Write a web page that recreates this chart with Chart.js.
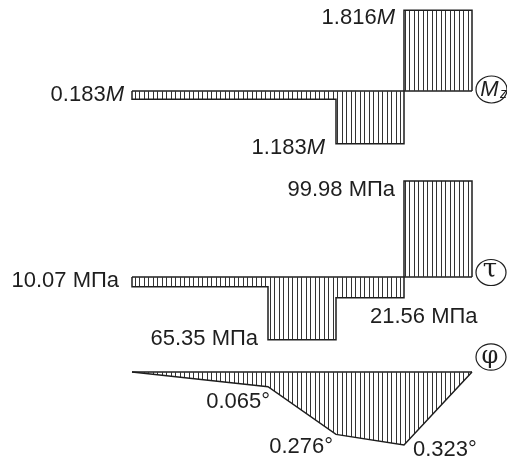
<!DOCTYPE html>
<html><head><meta charset="utf-8">
<style>html,body{margin:0;padding:0;background:#fff;overflow:hidden}#wrap{position:relative;width:507px;height:457px}</style>
</head><body><div id="wrap"><canvas id="c" width="507" height="457"></canvas></div>
<script src="https://cdn.jsdelivr.net/npm/chart.js@4/dist/chart.umd.min.js"></script>
<script>
// ---- data (signed: below the axis = negative) ----
const torqueBounds = [0, 3, 4, 5];
const torqueValues = [-0.183, -1.183, 1.816];          // × M
const stressBounds = [0, 2, 3, 4, 5];
const stressValues = [-10.07, -65.35, -21.56, 99.98];  // МПа
const angleX = [0, 2, 3, 4, 5];
const angleValues = [0, -0.065, -0.276, -0.323, 0];    // degrees

// ---- helpers ----
function stepPoints(bounds, vals) {
  const pts = [{x: bounds[0], y: 0}];
  vals.forEach((v, i) => { pts.push({x: bounds[i], y: v}); pts.push({x: bounds[i + 1], y: v}); });
  pts.push({x: bounds[bounds.length - 1], y: 0});
  return pts;
}
function hatch() {
  const c = document.createElement('canvas');
  c.width = 9; c.height = 4;
  const g = c.getContext('2d');
  g.fillStyle = '#333';
  g.fillRect(0, 0, 1, 4);
  g.fillRect(4, 0, 1, 4);
  return g.createPattern(c, 'repeat');
}
const pat = hatch();
const ink = '#1e1e1e';

function area(data, axis) {
  return {data, yAxisID: axis, borderColor: ink, borderWidth: 1.5, backgroundColor: pat,
    fill: {value: 0}, pointRadius: 0, tension: 0, clip: false};
}
function base(bounds, axis) {
  return {data: [{x: bounds[0], y: 0}, {x: bounds[bounds.length - 1], y: 0}], yAxisID: axis,
    borderColor: ink, borderWidth: 1.5, pointRadius: 0, fill: false, clip: false};
}
const anglePts = angleX.map((x, i) => ({x, y: angleValues[i]}));

// label anchors: [axis, x, value, text, unit, dx, dy, align]
const labelsCfg = [
  ['yM', torqueBounds[0], torqueValues[0], Math.abs(torqueValues[0]).toFixed(3), 'M', -8, 2, 'right'],
  ['yM', torqueBounds[1], torqueValues[1], Math.abs(torqueValues[1]).toFixed(3), 'M', -11, 10, 'right'],
  ['yM', torqueBounds[2], torqueValues[2], Math.abs(torqueValues[2]).toFixed(3), 'M', -9, 14, 'right'],
  ['yT', stressBounds[0], stressValues[0], Math.abs(stressValues[0]).toFixed(2) + ' МПа', '', -13, 0, 'right'],
  ['yT', stressBounds[1], stressValues[1], Math.abs(stressValues[1]).toFixed(2) + ' МПа', '', -10, 5, 'right'],
  ['yT', stressBounds[3], stressValues[2], Math.abs(stressValues[2]).toFixed(2) + ' МПа', '', -34, 25, 'left'],
  ['yT', stressBounds[3], stressValues[3], Math.abs(stressValues[3]).toFixed(2) + ' МПа', '', -9, 15, 'right'],
  ['yP', angleX[1], angleValues[1], Math.abs(angleValues[1]).toFixed(3) + '°', '', 2, 21, 'right'],
  ['yP', angleX[2], angleValues[2], Math.abs(angleValues[2]).toFixed(3) + '°', '', -3, 19, 'right'],
  ['yP', angleX[3], angleValues[3], Math.abs(angleValues[3]).toFixed(3) + '°', '', 9, 11, 'left']
];
const FONT = '22px "Liberation Sans", Arial, sans-serif';
const IFONT = 'italic 22px "Liberation Sans", Arial, sans-serif';

const labelPlugin = {
  id: 'labels',
  afterDatasetsDraw(chart) {
    const ctx = chart.ctx, xs = chart.scales.x;
    ctx.save();
    ctx.fillStyle = ink;
    ctx.textBaseline = 'alphabetic';
    labelsCfg.forEach(([ax, x, v, txt, unit, dx, dy, align]) => {
      const px = xs.getPixelForValue(x) + dx, py = chart.scales[ax].getPixelForValue(v) + dy;
      ctx.font = FONT; const w1 = ctx.measureText(txt).width;
      ctx.font = IFONT; const w2 = unit ? ctx.measureText(unit).width : 0;
      const left = align === 'right' ? px - w1 - w2 : px;
      ctx.textAlign = 'left';
      ctx.font = FONT; ctx.fillText(txt, left, py);
      if (unit) { ctx.font = IFONT; ctx.fillText(unit, left + w1, py); }
    });
    // circled diagram symbols
    const endX = xs.getPixelForValue(5);
    const circ = [['yM', 19.5, -1.5, 15.5, 13.5], ['yT', 19, -4.5, 15, 13], ['yP', 19, -15, 15, 13.2]];
    circ.forEach(([ax, dx, dy, rx, ry], i) => {
      const cx = endX + dx, cy = chart.scales[ax].getPixelForValue(0) + dy;
      ctx.beginPath(); ctx.lineWidth = 1.2; ctx.strokeStyle = ink;
      ctx.ellipse(cx, cy, rx, ry, 0, 0, Math.PI * 2); ctx.stroke();
      ctx.textAlign = 'center'; ctx.textBaseline = 'middle';
      if (i === 0) {
        ctx.font = 'italic 22px "Liberation Sans", Arial, sans-serif';
        ctx.fillText('M', cx - 2, cy);
        ctx.font = 'italic 14px "Liberation Sans", Arial, sans-serif';
        ctx.fillText('z', cx + 12, cy + 5);
      } else if (i === 1) {
        ctx.font = '26px "DejaVu Serif", "Liberation Serif", serif';
        ctx.fillText('τ', cx - 1, cy - 2);
      } else {
        ctx.font = '24px "DejaVu Serif", "Liberation Serif", serif';
        ctx.fillText('φ', cx - 1, cy);
      }
    });
    ctx.restore();
  }
};

const X0 = 132, UNIT = 68, W = 507, H = 457;
function yRange(basePx, k) { return {min: (basePx - H) / k, max: basePx / k}; }
const rM = yRange(91, 44.5), rT = yRange(277, 0.959), rP = yRange(372, 226);

new Chart(document.getElementById('c'), {
  type: 'line',
  data: {datasets: [
    area(stepPoints(torqueBounds, torqueValues), 'yM'), base(torqueBounds, 'yM'),
    area(stepPoints(stressBounds, stressValues), 'yT'), base(stressBounds, 'yT'),
    area(anglePts, 'yP'), base(angleX, 'yP')
  ]},
  options: {
    responsive: false, animation: false, devicePixelRatio: 1,
    layout: {padding: 0},
    plugins: {legend: {display: false}, tooltip: {enabled: false}},
    scales: {
      x: {type: 'linear', display: false, min: -X0 / UNIT, max: (W - X0) / UNIT},
      yM: {type: 'linear', display: false, min: rM.min, max: rM.max},
      yT: {type: 'linear', display: false, min: rT.min, max: rT.max},
      yP: {type: 'linear', display: false, min: rP.min, max: rP.max}
    }
  },
  plugins: [labelPlugin]
});
</script></body></html>
